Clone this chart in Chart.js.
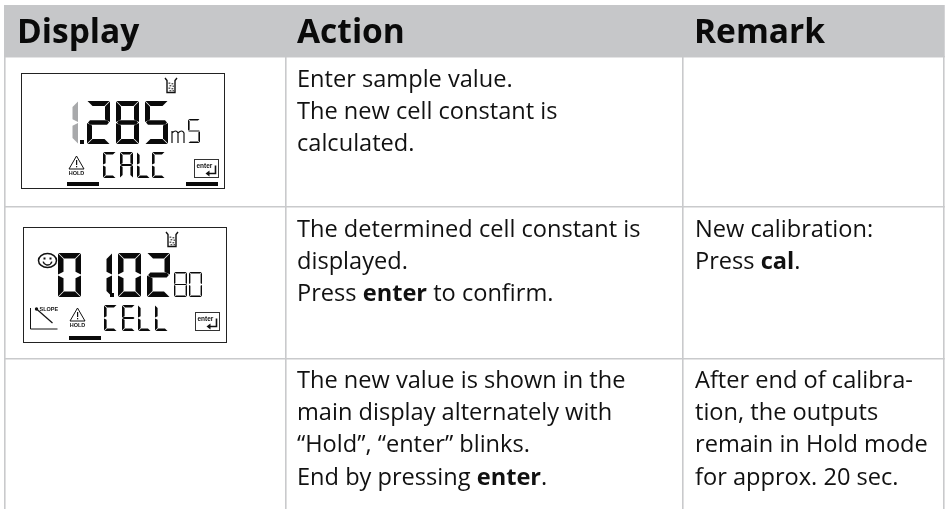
<!DOCTYPE html>
<html>
<head>
<meta charset="utf-8">
<title>Display / Action / Remark</title>
<script src="https://cdn.jsdelivr.net/npm/chart.js@4"></script>
<style>
html, body { margin: 0; padding: 0; background: #fff; }
#wrap { width: 946px; height: 509px; }
</style>
</head>
<body>
<div id="wrap"><canvas id="chart"></canvas></div>
<script>
// table content
const headers = ["Display", "Action", "Remark"];
const actionRows = [
  ["Enter sample value.", "The new cell constant is", "calculated."],
  ["The determined cell constant is", "displayed.", "Press **enter** to confirm."],
  ["The new value is shown in the", "main display alternately with", "“Hold”, “enter” blinks.", "End by pressing **enter**."]
];
const remarkRows = [
  [],
  ["New calibration:", "Press **cal**."],
  ["After end of calibra-", "tion, the outputs", "remain in Hold mode", "for approx. 20 sec."]
];
// what the two LCD pictures show
const lcdOneMain = ["2", "8", "5"];
const lcdOneWord = ["C", "A", "L", "C"];
const lcdTwoMain = ["0", "1", "0", "2"];
const lcdTwoSmall = ["8", "0"];
const lcdTwoWord = ["C", "E", "L", "L"];

// table rules
const columnEdges = [5, 286, 683, 944];
const rowEdges = [57, 207, 359];
const ruleColor = "#c9cacc";
const bandColor = "#c6c7c9";

const segments = {
  "0": "abcdef", "1": "bc", "2": "abged", "5": "afgcd", "8": "abcdefg",
  "A": "abcefg", "C": "afed", "E": "afged", "L": "fed"
};

// 7 segment glyph with bevelled ends
function drawGlyph(c, ch, x, y, w, h, t, color) {
  const m = y + h / 2, r = x + w, b = y + h, g = 0.5;
  const polys = {
    a: [[x + g, y], [r - g, y], [r - t - g, y + t], [x + t + g, y + t]],
    d: [[x + g, b], [r - g, b], [r - t - g, b - t], [x + t + g, b - t]],
    f: [[x, y + g], [x + t, y + t + g], [x + t, m - t / 2 - g], [x, m - g]],
    e: [[x, m + g], [x + t, m + t / 2 + g], [x + t, b - t - g], [x, b - g]],
    b: [[r, y + g], [r - t, y + t + g], [r - t, m - t / 2 - g], [r, m - g]],
    c: [[r, m + g], [r - t, m + t / 2 + g], [r - t, b - t - g], [r, b - g]],
    g: [[x + t * 0.6, m - t / 2 + 0.2], [r - t * 0.6, m - t / 2 + 0.2], [r - t * 0.2, m], [r - t * 0.6, m + t / 2 - 0.2], [x + t * 0.6, m + t / 2 - 0.2], [x + t * 0.2, m]]
  };
  c.fillStyle = color || "#0a0a0a";
  for (const s of segments[ch]) {
    c.beginPath();
    polys[s].forEach((p, i) => i ? c.lineTo(p[0], p[1]) : c.moveTo(p[0], p[1]));
    c.closePath();
    c.fill();
  }
}

function drawBeaker(c, x, y) {
  c.strokeStyle = "#111";
  c.lineWidth = 1.4;
  c.beginPath();
  c.moveTo(x, y); c.lineTo(x + 2, y + 2.5); c.lineTo(x + 2, y + 14.5);
  c.lineTo(x + 10, y + 14.5); c.lineTo(x + 10, y + 2.5); c.lineTo(x + 12, y);
  c.stroke();
  c.fillStyle = "#555";
  [[3.5, 4.5], [6.5, 5], [4.5, 7], [7.5, 7.5], [3.5, 9.5], [6.5, 10], [4.5, 12], [7.5, 12]].forEach(d => c.fillRect(x + d[0], y + d[1], 1.8, 1.4));
}

function drawHold(c, x, y) {
  c.strokeStyle = "#111";
  c.lineWidth = 1;
  c.beginPath();
  c.moveTo(x + 7.5, y); c.lineTo(x + 15, y + 13); c.lineTo(x, y + 13);
  c.closePath();
  c.stroke();
  c.fillStyle = "#111";
  c.fillRect(x + 7, y + 4, 1.2, 5);
  c.fillRect(x + 7, y + 10, 1.2, 1.3);
  c.font = "bold 5.5px 'Liberation Sans'";
  c.textAlign = "center";
  c.fillText("HOLD", x + 7.5, y + 19);
  c.textAlign = "left";
}

function drawEnter(c, x, y, w, h) {
  c.strokeStyle = "#333";
  c.lineWidth = 1;
  c.strokeRect(x, y, w, h);
  c.fillStyle = "#111";
  c.font = "bold 6.5px 'Liberation Sans'";
  c.fillText("enter", x + 2, y + 8);
  c.lineWidth = 1.6;
  c.strokeStyle = "#111";
  c.beginPath();
  c.moveTo(x + w - 3, y + 6); c.lineTo(x + w - 3, y + h - 4); c.lineTo(x + w - 11, y + h - 4);
  c.stroke();
  c.beginPath();
  c.moveTo(x + w - 13, y + h - 4); c.lineTo(x + w - 9, y + h - 7); c.lineTo(x + w - 9, y + h - 1);
  c.closePath();
  c.fill();
}

function drawSmiley(c, x, y) {
  c.strokeStyle = "#111";
  c.lineWidth = 1.5;
  c.beginPath();
  c.ellipse(x, y, 9, 7, 0, 0, Math.PI * 2);
  c.stroke();
  c.fillStyle = "#111";
  c.fillRect(x - 4, y - 3, 2, 2);
  c.fillRect(x + 2, y - 3, 2, 2);
  c.beginPath();
  c.arc(x, y, 4.5, 0.25, Math.PI - 0.25);
  c.stroke();
}

function drawSlope(c, x, y) {
  c.strokeStyle = "#111";
  c.lineWidth = 1;
  c.beginPath();
  c.moveTo(x, y); c.lineTo(x, y + 21); c.lineTo(x + 27, y + 21);
  c.stroke();
  c.lineWidth = 1.2;
  c.beginPath();
  c.moveTo(x + 6, y + 1); c.lineTo(x + 22, y + 15);
  c.stroke();
  c.fillStyle = "#111";
  c.beginPath();
  c.arc(x + 6, y + 1, 1.7, 0, Math.PI * 2);
  c.fill();
  c.font = "bold 5.5px 'Liberation Sans'";
  c.fillText("SLOPE", x + 9, y + 3);
}

// the small thin m of the mS unit, same stroke as the small 5 beside it
function drawUnitM(c, x, y) {
  c.strokeStyle = "#111";
  c.lineWidth = 1.2;
  c.beginPath();
  c.moveTo(x, y + 13); c.lineTo(x, y + 1);
  c.moveTo(x, y + 3); c.quadraticCurveTo(x + 4, y - 1, x + 6, y + 3); c.lineTo(x + 6, y + 13);
  c.moveTo(x + 6, y + 3); c.quadraticCurveTo(x + 10, y - 1, x + 12, y + 3); c.lineTo(x + 12, y + 13);
  c.stroke();
}

function drawLcd(chart) {
  const c = chart.ctx, sx = chart.scales.x, sy = chart.scales.y;
  c.save();
  // everything below is placed in axis units
  c.translate(sx.getPixelForValue(0), sy.getPixelForValue(0));

  // first display
  c.lineWidth = 1;
  c.strokeStyle = "#222";
  c.strokeRect(21.5, 73.5, 203, 115);
  drawBeaker(c, 165, 78);
  drawGlyph(c, "1", 55, 101, 23, 43, 5.5, "#a8a9ab");
  c.fillStyle = "#0a0a0a";
  c.fillRect(80, 140, 4, 4);
  lcdOneMain.forEach((d, i) => drawGlyph(c, d, 87 + i * 29, 101, 23, 43, 5));
  drawUnitM(c, 172, 130);
  drawGlyph(c, "5", 188, 119, 12, 24, 1.6);
  lcdOneWord.forEach((d, i) => drawGlyph(c, d, [103, 120, 137, 152][i], 152, 13, 26, 2.6));
  drawHold(c, 69, 156);
  drawEnter(c, 194.5, 159.5, 24, 18);
  c.fillStyle = "#0a0a0a";
  c.fillRect(67, 182, 32, 4);
  c.fillRect(186, 182, 32, 4);

  // second display
  c.strokeStyle = "#222";
  c.lineWidth = 1;
  c.strokeRect(23.5, 227.5, 203, 115);
  drawBeaker(c, 166, 232);
  drawSmiley(c, 47.5, 260.5);
  lcdTwoMain.forEach((d, i) => drawGlyph(c, d, [58, 89, 118, 147][i], 253, 23, 44, 5.5));
  c.fillStyle = "#0a0a0a";
  c.fillRect(110, 293, 4, 4);
  lcdTwoSmall.forEach((d, i) => drawGlyph(c, d, 174 + i * 15, 272, 13, 25, 1.4));
  drawSlope(c, 30.5, 308);
  drawHold(c, 70, 308);
  lcdTwoWord.forEach((d, i) => drawGlyph(c, d, [104, 122, 138, 155][i], 305, 13, 26, 2.6));
  drawEnter(c, 195.5, 312.5, 24, 18);
  c.fillStyle = "#0a0a0a";
  c.fillRect(69, 336, 32, 4);
  c.restore();
}

// draws "a **b** c" with the bold runs set in the bold face
function drawRuns(c, line, x, y, size) {
  let cx = x;
  line.split("**").forEach((run, i) => {
    c.font = (i % 2 ? "bold " : "") + size + "px 'Open Sans'";
    c.fillText(run, cx, y);
    cx += c.measureText(run).width;
  });
}

function drawCellText(chart) {
  const c = chart.ctx, sx = chart.scales.x, sy = chart.scales.y;
  c.save();
  c.fillStyle = "#111";
  c.textBaseline = "alphabetic";
  c.textAlign = "left";
  const headerX = [17, 297, 694];
  headers.forEach((h, i) => {
    c.font = "bold 33.5px 'Open Sans'";
    c.fillStyle = "#0a0a0a";
    c.fillText(h, sx.getPixelForValue(headerX[i]), sy.getPixelForValue(43));
  });
  c.fillStyle = "#111";
  const firstLine = [87, 237, 388];
  actionRows.forEach((lines, r) => {
    lines.forEach((l, i) => drawRuns(c, l, sx.getPixelForValue(297), sy.getPixelForValue(firstLine[r] + i * 32.2), 23.6));
  });
  remarkRows.forEach((lines, r) => {
    lines.forEach((l, i) => drawRuns(c, l, sx.getPixelForValue(695), sy.getPixelForValue(firstLine[r] + i * 32.2), 23.6));
  });
  c.restore();
}

const tablePlugin = {
  id: "tablePlugin",
  afterDatasetsDraw(chart) {
    drawLcd(chart);
    drawCellText(chart);
  }
};

new Chart(document.getElementById("chart"), {
  type: "line",
  data: {
    datasets: [{
      // header band
      data: [{ x: 4, y: rowEdges[0] }, { x: 944.75, y: rowEdges[0] }],
      borderWidth: 0,
      pointRadius: 0,
      backgroundColor: bandColor,
      fill: { value: 5 }
    }]
  },
  options: {
    responsive: true,
    maintainAspectRatio: false,
    animation: false,
    layout: { padding: { left: 4, top: 5, right: 1.25, bottom: 0 } },
    plugins: { legend: { display: false }, tooltip: { enabled: false } },
    scales: {
      x: {
        type: "linear",
        min: 4,
        max: 944.75,
        afterBuildTicks: axis => { axis.ticks = columnEdges.map(v => ({ value: v })); },
        ticks: { display: false },
        border: { display: false },
        grid: { color: ruleColor, lineWidth: 1.6, drawTicks: false }
      },
      y: {
        type: "linear",
        reverse: true,
        min: 5,
        max: 509,
        afterBuildTicks: axis => { axis.ticks = rowEdges.map(v => ({ value: v })); },
        ticks: { display: false },
        border: { display: false },
        grid: { color: ruleColor, lineWidth: 1.6, drawTicks: false }
      }
    }
  },
  plugins: [tablePlugin]
});
</script>
</body>
</html>
